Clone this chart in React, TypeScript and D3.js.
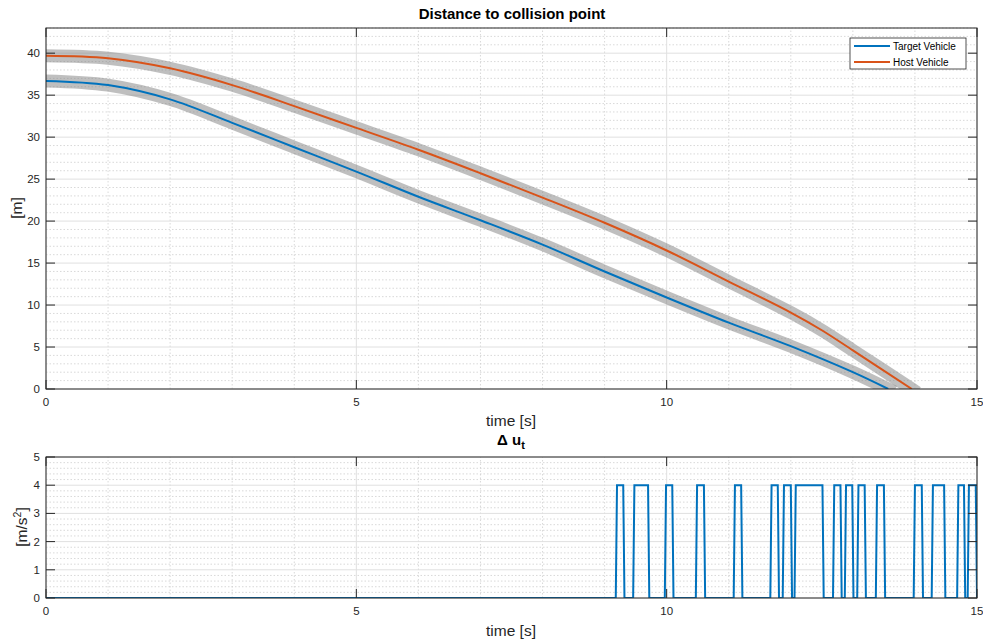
import React from "react";
import * as d3 from "d3";

// ---------- data ----------
const targetTime = [0, 1, 2, 3, 4, 5, 6, 7, 8, 9, 10, 11, 12, 13, 13.57];
const targetDist = [36.7, 36.2, 34.5, 31.7, 28.8, 25.9, 22.9, 20.1, 17.2, 14.0, 10.9, 7.9, 5.1, 2.0, 0];
const hostTime = [0, 1, 2, 3, 4, 5, 6, 7, 8, 9, 10, 11, 12, 12.5, 13, 13.95];
const hostDist = [39.7, 39.4, 38.2, 36.2, 33.7, 31.1, 28.5, 25.7, 22.8, 19.8, 16.5, 12.8, 9.1, 7.0, 4.6, 0];

const pulseOn = [9.2, 9.48, 9.99, 10.49, 11.1, 11.69, 11.89, 12.08, 12.7, 12.89, 13.09, 13.39, 14.0, 14.29, 14.7, 14.87];
const pulseOff = [9.3, 9.7, 10.09, 10.6, 11.2, 11.79, 12.0, 12.51, 12.8, 12.99, 13.19, 13.5, 14.11, 14.47, 14.79, 14.98];
const pulseLevel = 4;

const xTicks = [0, 5, 10, 15];
const yTicksTop = [0, 5, 10, 15, 20, 25, 30, 35, 40];
const yTicksBottom = [0, 1, 2, 3, 4, 5];

const seriesNames = ["Target Vehicle", "Host Vehicle"];
const seriesColors = ["#0072BD", "#D95319"];

// ---------- layout ----------
const W = 983;
const H = 639;
const FONT = "'Liberation Sans', Arial, Helvetica, sans-serif";
const AX = "#262626";

type Pt = [number, number];

function Axes(props: {
  x: d3.ScaleLinear<number, number>;
  y: d3.ScaleLinear<number, number>;
  yTicks: number[];
  xMinor: number[];
  yMinor: number[];
  id: string;
  children?: React.ReactNode;
}) {
  const { x, y, yTicks, xMinor, yMinor, id } = props;
  const [x0, x1] = x.range();
  const [y0, y1] = y.range(); // y0 bottom, y1 top
  const tl = 9;
  return (
    <g>
      <defs>
        <clipPath id={id}>
          <rect x={x0} y={y1} width={x1 - x0} height={y0 - y1} />
        </clipPath>
      </defs>
      <rect x={x0} y={y1} width={x1 - x0} height={y0 - y1} fill="#fff" />
      {xMinor.map((v) => (
        <line key={"xm" + v} x1={x(v)} x2={x(v)} y1={y0} y2={y1} stroke="#cfcfcf" strokeWidth={0.8} strokeDasharray="1.5 2" />
      ))}
      {yMinor.map((v) => (
        <line key={"ym" + v} x1={x0} x2={x1} y1={y(v)} y2={y(v)} stroke="#cfcfcf" strokeWidth={0.8} strokeDasharray="1.5 2" />
      ))}
      {xTicks.map((v) => (
        <line key={"xg" + v} x1={x(v)} x2={x(v)} y1={y0} y2={y1} stroke="#e0e0e0" strokeWidth={1} />
      ))}
      {yTicks.map((v) => (
        <line key={"yg" + v} x1={x0} x2={x1} y1={y(v)} y2={y(v)} stroke="#e0e0e0" strokeWidth={1} />
      ))}
      <g clipPath={`url(#${id})`}>{props.children}</g>
      <rect x={x0} y={y1} width={x1 - x0} height={y0 - y1} fill="none" stroke={AX} strokeWidth={1} />
      {xTicks.map((v) => (
        <g key={"xt" + v}>
          <line x1={x(v)} x2={x(v)} y1={y0} y2={y0 - tl} stroke={AX} strokeWidth={1} />
          <line x1={x(v)} x2={x(v)} y1={y1} y2={y1 + tl} stroke={AX} strokeWidth={1} />
          <text x={x(v)} y={y0 + 17} textAnchor="middle" fontSize={11.5} fill={AX} fontFamily={FONT}>
            {v}
          </text>
        </g>
      ))}
      {yTicks.map((v) => (
        <g key={"yt" + v}>
          <line x1={x0} x2={x0 + tl} y1={y(v)} y2={y(v)} stroke={AX} strokeWidth={1} />
          <line x1={x1} x2={x1 - tl} y1={y(v)} y2={y(v)} stroke={AX} strokeWidth={1} />
          <text x={x0 - 6} y={y(v) + 4} textAnchor="end" fontSize={11.5} fill={AX} fontFamily={FONT}>
            {v}
          </text>
        </g>
      ))}
    </g>
  );
}

export default function App() {
  const xTop = d3.scaleLinear().domain([0, 15]).range([46, 977]);
  const yTop = d3.scaleLinear().domain([0, 43]).range([389, 28]);
  const xBot = d3.scaleLinear().domain([0, 15]).range([46, 977]);
  const yBot = d3.scaleLinear().domain([0, 5]).range([598, 457]);

  const minorX = d3.range(0, 16, 1).filter((v) => v % 5 !== 0);
  const minorYTop = d3.range(1, 44, 1).filter((v) => v % 5 !== 0);
  const minorYBot = d3.range(0, 26, 1).filter((v) => v % 5 !== 0).map((v) => v / 5);

  const lineTop = d3
    .line<Pt>()
    .x((d) => xTop(d[0]))
    .y((d) => yTop(d[1]))
    .curve(d3.curveCatmullRom.alpha(0.5));

  const target: Pt[] = targetTime.map((t, i) => [t, targetDist[i]]);
  const host: Pt[] = hostTime.map((t, i) => [t, hostDist[i]]);

  const pulsePts: Pt[] = [[0, 0]];
  pulseOn.forEach((on, i) => {
    pulsePts.push([on - 0.02, 0], [on, pulseLevel], [pulseOff[i], pulseLevel], [pulseOff[i] + 0.02, 0]);
  });
  pulsePts.push([15, 0]);
  const lineBot = d3
    .line<Pt>()
    .x((d) => xBot(d[0]))
    .y((d) => yBot(d[1]));

  const legX = 850;
  const legY = 38;

  return (
    <svg
      width={W}
      height={H}
      style={{ position: "absolute", left: 0, top: 0, background: "#fff" }}
      fontFamily={FONT}
    >
      <rect width={W} height={H} fill="#fff" />
      <Axes x={xTop} y={yTop} yTicks={yTicksTop} xMinor={minorX} yMinor={minorYTop} id="clipTop">
        {[target, host].map((s, i) => (
          <path key={"band" + i} d={lineTop(s) || ""} fill="none" stroke="rgba(128,128,128,0.5)" strokeWidth={13} strokeLinecap="square" />
        ))}
        {[target, host].map((s, i) => (
          <path key={"ln" + i} d={lineTop(s) || ""} fill="none" stroke={seriesColors[i]} strokeWidth={2} />
        ))}
      </Axes>
      <text x={512} y={19} textAnchor="middle" fontSize={15} fontWeight="bold" fill="#000">
        Distance to collision point
      </text>
      <text x={511} y={426} textAnchor="middle" fontSize={15.5} fill={AX}>
        time [s]
      </text>
      <text transform="translate(22,208) rotate(-90)" textAnchor="middle" fontSize={15.5} fill={AX}>
        [m]
      </text>
      <g>
        <rect x={legX} y={legY} width={116} height={31} fill="#fff" stroke={AX} strokeWidth={0.8} />
        {seriesNames.map((n, i) => (
          <g key={n}>
            <line x1={legX + 4} x2={legX + 40} y1={legY + 8 + i * 16} y2={legY + 8 + i * 16} stroke={seriesColors[i]} strokeWidth={2} />
            <text x={legX + 43} y={legY + 12 + i * 16} fontSize={10} fill="#000">
              {n}
            </text>
          </g>
        ))}
      </g>

      <Axes x={xBot} y={yBot} yTicks={yTicksBottom} xMinor={minorX} yMinor={minorYBot} id="clipBot">
        <path d={lineBot(pulsePts) || ""} fill="none" stroke="#0072BD" strokeWidth={2} />
      </Axes>
      <text x={511} y={445} textAnchor="middle" fontSize={15} fontWeight="bold" fill="#000">
        {"\u0394 u"}
        <tspan fontSize={11} dy={4}>t</tspan>
      </text>
      <text x={511} y={636} textAnchor="middle" fontSize={15.5} fill={AX}>
        time [s]
      </text>
      <text transform="translate(27,527) rotate(-90)" textAnchor="middle" fontSize={15.5} fill={AX}>
        [m/s<tspan fontSize={10.5} dy={-6}>2</tspan>
        <tspan dy={6}>]</tspan>
      </text>
    </svg>
  );
}
